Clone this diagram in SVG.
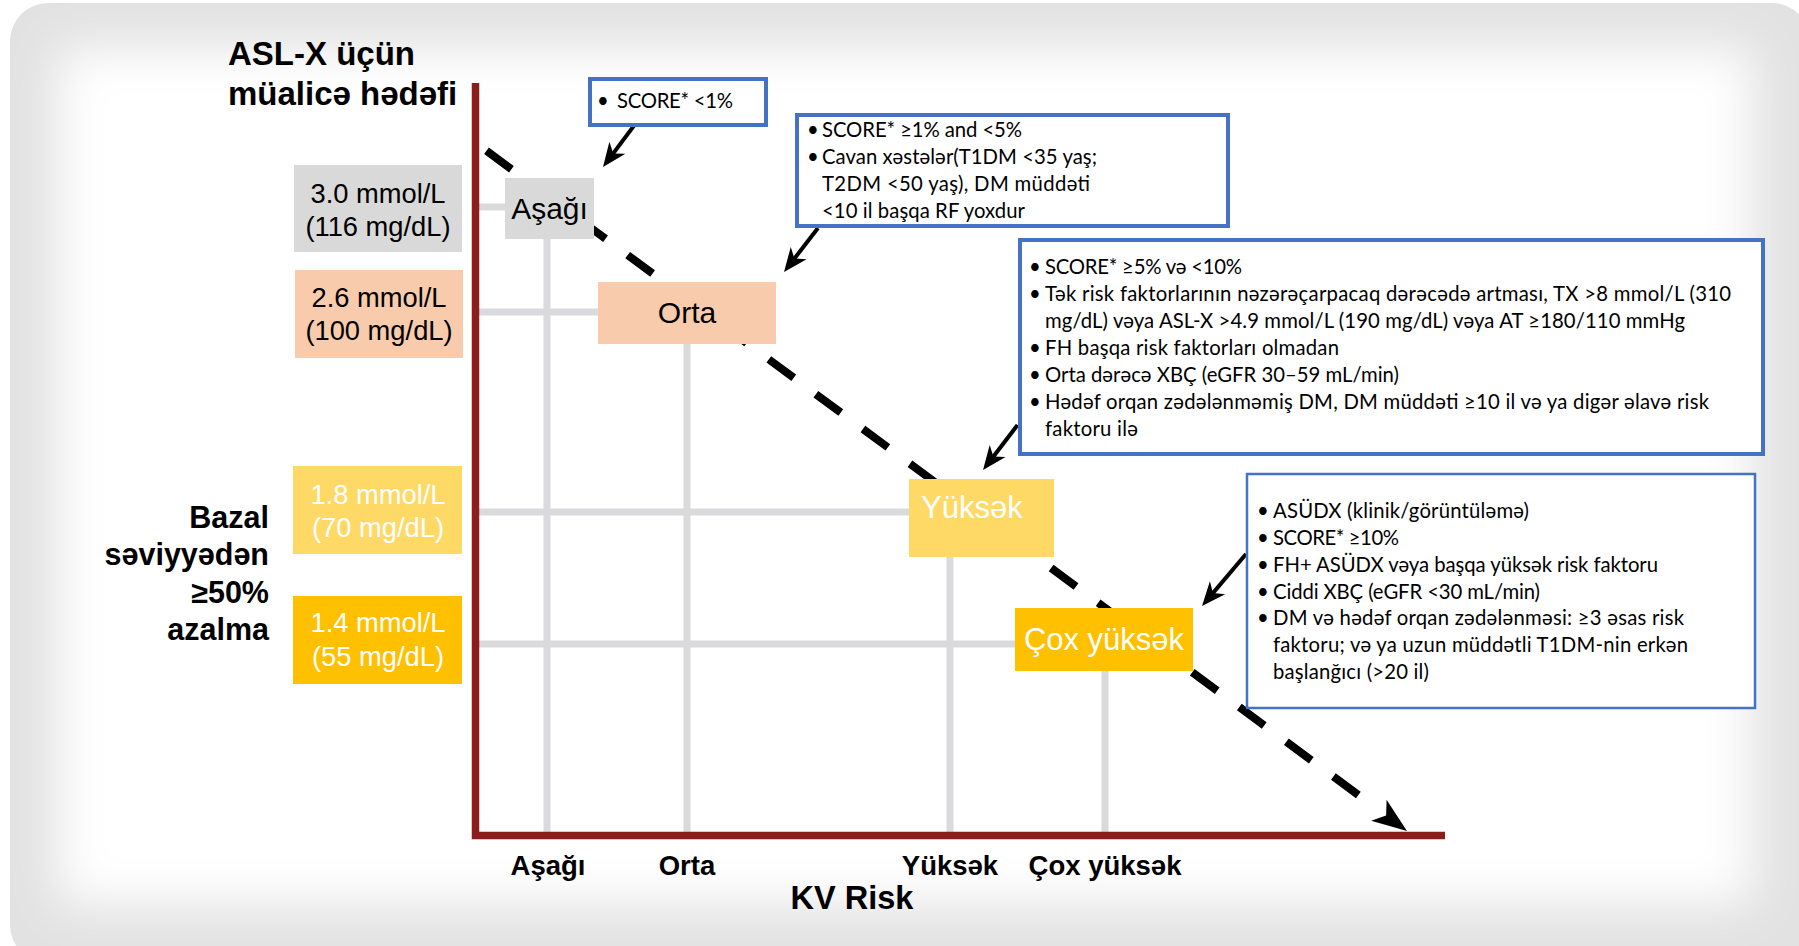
<svg xmlns="http://www.w3.org/2000/svg" width="1799" height="946" viewBox="0 0 1799 946">
<defs>
<clipPath id="panelClip"><rect x="10" y="3" width="1800" height="960" rx="38" ry="38"/></clipPath>
<filter id="soft" x="-10%" y="-10%" width="120%" height="120%"><feGaussianBlur stdDeviation="24"/></filter>
<marker id="callArrow" markerUnits="userSpaceOnUse" viewBox="-26 -12 28 24" markerWidth="28" markerHeight="24" refX="-8" refY="0" orient="auto">
<path d="M0,0 L-24,-10 L-17,0 L-24,10 Z" fill="#000"/>
</marker>
<style>
.ttl{font-family:"Liberation Sans",Arial,sans-serif;font-weight:bold;fill:#000}
.lbl{font-family:"Liberation Sans",Arial,sans-serif;fill:#000}
.wht{fill:#fff}
.cal{font-family:Lato,"Noto Sans",sans-serif;font-size:20.3px;fill:#000}
.box{fill:#fff;stroke:#4472c4}
.grid{stroke:#dadadc;stroke-width:7;fill:none}
.call{stroke:#000;stroke-width:4;fill:none;marker-end:url(#callArrow)}
</style>
</defs>
<rect width="1799" height="946" fill="#fff"/>
<g clip-path="url(#panelClip)">
<rect x="0" y="0" width="1799" height="946" fill="#e2e2e2"/>
<rect x="58" y="48" width="1694" height="856" fill="#fff" filter="url(#soft)"/>
</g>

<g id="grid">
<path class="grid" d="M479,207 H505 M479,312 H598 M479,512 H909 M479,644 H1015"/>
<path class="grid" d="M547,239 V832 M687,344 V832 M950,557 V832 M1105,671 V832"/>
</g>

<g id="connectors">
<line x1="480" y1="146" x2="1380" y2="811" stroke="#000" stroke-width="8" stroke-dasharray="31 27.5" stroke-dashoffset="50.4"/>
<polygon points="0,0 -35,-13 -26,0 -35,13" fill="#000" transform="translate(1407,831) rotate(36.5)"/>
<line class="call" x1="636" y1="123" x2="607.8" y2="160.6"/>
<line class="call" x1="818" y1="228" x2="788.9" y2="265.7"/>
<line class="call" x1="1017.5" y1="425" x2="987.9" y2="463.7"/>
<line class="call" x1="1246" y1="554" x2="1207.2" y2="599.9"/>
</g>

<g id="axes">
<path d="M475.5,83 V835.5 H1445" stroke="#8c1d1a" stroke-width="7.5" fill="none"/>
</g>

<g id="title">
<text class="ttl" x="228" y="65" font-size="33">ASL-X üçün</text>
<text class="ttl" x="228" y="105" font-size="33">müalicə hədəfi</text>
</g>

<g id="reduction-label">
<text class="ttl" font-size="30.5" text-anchor="end"><tspan x="269" y="528">Bazal</tspan><tspan x="269" y="565">səviyyədən</tspan><tspan x="269" y="603">≥50%</tspan><tspan x="269" y="640">azalma</tspan></text>
</g>

<g id="target-3-0">
<rect x="294" y="165" width="168" height="87" fill="#d9d9d9"/>
<text class="lbl" font-size="27.3" text-anchor="middle"><tspan x="378" y="203">3.0 mmol/L</tspan><tspan x="378" y="236">(116 mg/dL)</tspan></text>
</g>
<g id="target-2-6">
<rect x="295" y="270" width="168" height="88" fill="#f8cbad"/>
<text class="lbl" font-size="27.3" text-anchor="middle"><tspan x="379" y="307">2.6 mmol/L</tspan><tspan x="379" y="340">(100 mg/dL)</tspan></text>
</g>
<g id="target-1-8">
<rect x="293" y="466" width="169" height="88" fill="#ffd966"/>
<text class="lbl wht" font-size="27.3" text-anchor="middle"><tspan x="378" y="504">1.8 mmol/L</tspan><tspan x="378" y="537">(70 mg/dL)</tspan></text>
</g>
<g id="target-1-4">
<rect x="293" y="596" width="169" height="88" fill="#ffc000"/>
<text class="lbl wht" font-size="27.3" text-anchor="middle"><tspan x="378" y="632">1.4 mmol/L</tspan><tspan x="378" y="666">(55 mg/dL)</tspan></text>
</g>

<g id="node-asagi">
<rect x="505" y="178" width="89" height="61" fill="#d9d9d9"/>
<text class="lbl" x="549.5" y="219" font-size="30" text-anchor="middle">Aşağı</text>
</g>
<g id="node-orta">
<rect x="598" y="282" width="178" height="62" fill="#f8cbad"/>
<text class="lbl" x="687" y="323" font-size="30" text-anchor="middle">Orta</text>
</g>
<g id="node-yuksek">
<rect x="909" y="479" width="145" height="78" fill="#ffd966"/>
<text class="lbl wht" x="921" y="518" font-size="31">Yüksək</text>
</g>
<g id="node-cox-yuksek">
<rect x="1015" y="608" width="178" height="63" fill="#ffc000"/>
<text class="lbl wht" x="1104" y="650" font-size="31" text-anchor="middle">Çox yüksək</text>
</g>

<g id="x-labels">
<text class="ttl" font-size="27.5" text-anchor="middle" y="875"><tspan x="548">Aşağı</tspan><tspan x="687">Orta</tspan><tspan x="950">Yüksək</tspan><tspan x="1105">Çox yüksək</tspan></text>
<text class="ttl" x="852" y="909" font-size="32.5" text-anchor="middle">KV Risk</text>
</g>

<g id="callout-low">
<rect class="box" x="590" y="79" width="176" height="46" stroke-width="4"/>
<text class="cal" x="597" y="108">•</text>
<text class="cal" x="617" y="108" textLength="116" lengthAdjust="spacing">SCORE* &lt;1%</text>
</g>
<g id="callout-moderate">
<rect class="box" x="797" y="115" width="431" height="111" stroke-width="4"/>
<text class="cal" x="807" y="137">•</text>
<text class="cal" x="822" y="137" textLength="200" lengthAdjust="spacing">SCORE* ≥1% and &lt;5%</text>
<text class="cal" x="807" y="164">•</text>
<text class="cal" x="822" y="164" textLength="275" lengthAdjust="spacing">Cavan xəstələr(T1DM &lt;35 yaş;</text>
<text class="cal" x="822" y="191" textLength="268" lengthAdjust="spacing">T2DM &lt;50 yaş),  DM müddəti</text>
<text class="cal" x="822" y="218" textLength="203" lengthAdjust="spacing">&lt;10 il başqa RF yoxdur</text>
</g>
<g id="callout-high">
<rect class="box" x="1020" y="240" width="743" height="214" stroke-width="4"/>
<text class="cal" x="1029" y="274">•</text>
<text class="cal" x="1045" y="274" textLength="197" lengthAdjust="spacing">SCORE* ≥5% və &lt;10%</text>
<text class="cal" x="1029" y="301">•</text>
<text class="cal" x="1045" y="301" textLength="686" lengthAdjust="spacing">Tək risk faktorlarının nəzərəçarpacaq dərəcədə artması, TX &gt;8 mmol/L (310</text>
<text class="cal" x="1045" y="328" textLength="640" lengthAdjust="spacing">mg/dL) vəya ASL-X &gt;4.9 mmol/L (190 mg/dL) vəya AT ≥180/110 mmHg</text>
<text class="cal" x="1029" y="355">•</text>
<text class="cal" x="1045" y="355" textLength="294" lengthAdjust="spacing">FH başqa risk faktorları olmadan</text>
<text class="cal" x="1029" y="382">•</text>
<text class="cal" x="1045" y="382" textLength="354" lengthAdjust="spacing">Orta dərəcə XBÇ (eGFR 30–59 mL/min)</text>
<text class="cal" x="1029" y="409">•</text>
<text class="cal" x="1045" y="409" textLength="664" lengthAdjust="spacing">Hədəf orqan zədələnməmiş DM, DM müddəti ≥10 il və ya digər əlavə risk</text>
<text class="cal" x="1045" y="436" textLength="93" lengthAdjust="spacing">faktoru ilə</text>
</g>
<g id="callout-very-high">
<rect class="box" x="1247" y="474" width="508" height="234" stroke-width="2.5"/>
<text class="cal" x="1257" y="518">•</text>
<text class="cal" x="1273" y="518" textLength="256" lengthAdjust="spacing">ASÜDX (klinik/görüntüləmə)</text>
<text class="cal" x="1257" y="545">•</text>
<text class="cal" x="1273" y="545" textLength="126" lengthAdjust="spacing">SCORE* ≥10%</text>
<text class="cal" x="1257" y="572">•</text>
<text class="cal" x="1273" y="572" textLength="385" lengthAdjust="spacing">FH+ ASÜDX vəya başqa yüksək risk faktoru</text>
<text class="cal" x="1257" y="599">•</text>
<text class="cal" x="1273" y="599" textLength="267" lengthAdjust="spacing">Ciddi XBÇ (eGFR &lt;30 mL/min)</text>
<text class="cal" x="1257" y="625">•</text>
<text class="cal" x="1273" y="625" textLength="411" lengthAdjust="spacing">DM və hədəf orqan zədələnməsi: ≥3 əsas risk</text>
<text class="cal" x="1273" y="652" textLength="415" lengthAdjust="spacing">faktoru; və ya uzun müddətli T1DM-nin erkən</text>
<text class="cal" x="1273" y="679" textLength="156" lengthAdjust="spacing">başlanğıcı (&gt;20 il)</text>
</g>
</svg>
